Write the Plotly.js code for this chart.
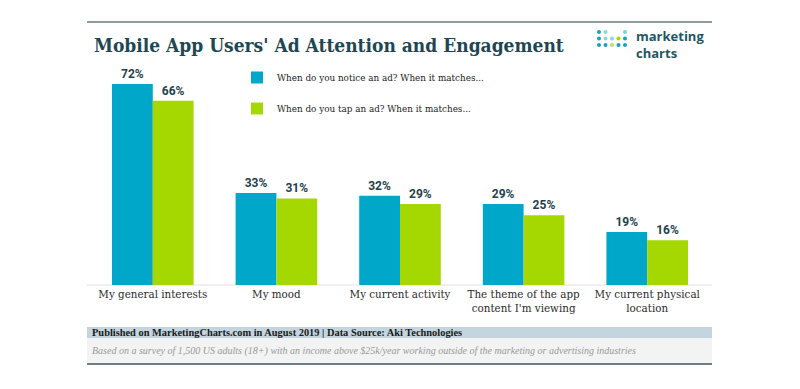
<!DOCTYPE html>
<html>
<head>
<meta charset="utf-8">
<script src="https://cdn.plot.ly/plotly-3.0.1.min.js"></script>
<style>html,body{margin:0;padding:0;background:#fff;}#chart{width:800px;height:389px;}</style>
</head>
<body>
<div id="chart"></div>
<script>
var categories = ["My general interests", "My mood", "My current activity", "The theme of the app<br>content I'm viewing", "My current physical<br>location"];
var noticeValues = [72, 33, 32, 29, 19];
var tapValues = [66, 31, 29, 25, 16];
var seriesNames = ["When do you notice an ad? When it matches...", "When do you tap an ad? When it matches..."];

var W = 800, H = 389;
var plotL = 91, plotR = 709, plotT = 60, plotB = 285;
function px(x){ return (x - plotL) / (plotR - plotL); }
function py(y){ return (plotB - y) / (plotB - plotT); }

var serif = "'DejaVu Serif Condensed', 'DejaVu Serif', serif";
var serifNarrow = "'Liberation Serif', serif";
var labelFont = {family: "Roboto, sans-serif", size: 12, color: "#24414d", weight: 700};

var traces = [
  {type: "bar", x: categories, y: noticeValues, name: seriesNames[0], legendgroup: "a",
   marker: {color: "#00a7c9"}, text: noticeValues.map(function(v){return v + "%";}),
   textposition: "outside", textfont: labelFont, cliponaxis: false, hoverinfo: "skip"},
  {type: "bar", x: categories, y: tapValues, name: seriesNames[1], legendgroup: "b",
   marker: {color: "#a5d800"}, text: tapValues.map(function(v){return v + "%";}),
   textposition: "outside", textfont: labelFont, cliponaxis: false, hoverinfo: "skip"}
];

var shapes = [
  {type: "line", xref: "paper", yref: "paper", x0: px(87), x1: px(712), y0: py(22), y1: py(22), line: {color: "#8d9ca2", width: 2}},
  {type: "line", xref: "paper", yref: "paper", x0: px(87), x1: px(712), y0: 0, y1: 0, line: {color: "#e2e2e2", width: 1}, layer: "below"},
  {type: "rect", xref: "paper", yref: "paper", x0: px(87), x1: px(712), y0: py(327), y1: py(338), fillcolor: "#c3d5df", line: {width: 0}},
  {type: "rect", xref: "paper", yref: "paper", x0: px(87), x1: px(712), y0: py(338), y1: py(363), fillcolor: "#f3f3f3", line: {width: 0}},
  {type: "line", xref: "paper", yref: "paper", x0: px(87), x1: px(712), y0: py(364), y1: py(364), line: {color: "#6f7f86", width: 2}}
];

// logo dots
var dotCols = [599, 605.5, 612, 618.5, 625];
var dotRows = [32, 38.5, 45];
var dotPattern = [
  ["#1aa0c0", "#8fd3e3", null, null, "#7fd0df"],
  ["#1aa0c0", "#8fd3e3", "#8fd3e3", "#a5d800", "#1aa0c0"],
  ["#1aa0c0", "#1aa0c0", "#b9e36a", "#1aa0c0", "#1aa0c0"]
];
dotPattern.forEach(function(row, r){
  row.forEach(function(c, i){
    if(!c) return;
    shapes.push({type: "circle", xref: "paper", yref: "paper",
      x0: px(dotCols[i] - 2), x1: px(dotCols[i] + 2), y0: py(dotRows[r] + 2), y1: py(dotRows[r] - 2),
      fillcolor: c, line: {width: 0}});
  });
});

var annotations = [
  {text: "<b>Mobile App Users' Ad Attention and Engagement</b>", xref: "paper", yref: "paper", x: px(92), y: py(45),
   xanchor: "left", yanchor: "middle", showarrow: false, font: {family: serif, size: 19, color: "#1d4753"}},
  {text: "<b>marketing<br>charts</b>", xref: "paper", yref: "paper", x: px(634), y: py(44), xanchor: "left", yanchor: "middle",
   align: "left", showarrow: false, font: {family: "'Open Sans', sans-serif", size: 13, color: "#1f5664"}},
  {text: "<b>Published on MarketingCharts.com in August 2019 | Data Source: Aki Technologies</b>", xref: "paper", yref: "paper",
   x: px(90), y: py(332.5), xanchor: "left", yanchor: "middle", showarrow: false, font: {family: serifNarrow, size: 10.4, color: "#1a1a1a"}},
  {text: "<i>Based on a survey of 1,500 US adults (18+) with an income above $25k/year working outside of the marketing or advertising industries</i>", xref: "paper", yref: "paper",
   x: px(90), y: py(351), xanchor: "left", yanchor: "middle", showarrow: false, font: {family: serifNarrow, size: 10, color: "#999999"}}
];

var layout = {
  width: W, height: H,
  margin: {l: plotL, r: W - plotR, t: plotT, b: H - plotB, pad: 0},
  paper_bgcolor: "#ffffff", plot_bgcolor: "#ffffff",
  barmode: "group", bargap: 0.34, bargroupgap: 0,
  showlegend: true,
  legend: {x: px(237), y: py(63), xanchor: "left", yanchor: "top", bgcolor: "rgba(0,0,0,0)",
    font: {family: serif, size: 9.8, color: "#222222"}, tracegroupgap: 12, traceorder: "grouped"},
  xaxis: {type: "category", range: [-0.5, 4.5], showgrid: false, zeroline: false, showline: false, ticks: "",
    tickfont: {family: serif, size: 11.5, color: "#2b2b2b"}, fixedrange: true},
  yaxis: {range: [0, 80.6], visible: false, showgrid: false, zeroline: false, fixedrange: true},
  shapes: shapes, annotations: annotations
};

Plotly.newPlot("chart", traces, layout, {displayModeBar: false, staticPlot: true});
</script>
</body>
</html>
